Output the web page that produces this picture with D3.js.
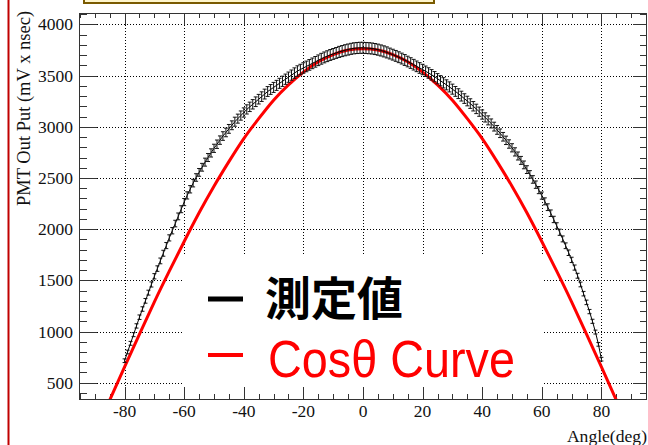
<!DOCTYPE html>
<html>
<head>
<meta charset="utf-8">
<script src="https://cdn.jsdelivr.net/npm/d3@7"></script>
<style>
  html, body { margin: 0; padding: 0; background: #fff; }
  svg { display: block; }
</style>
</head>
<body>
<div id="chart"></div>
<script>
// measured points, 1 degree steps from -80 to 80
const angles = d3.range(-80, 81);
const measured = [
  715, 800, 885, 970, 1055, 1140, 1220, 1300, 1380, 1460,
  1540, 1615, 1690, 1765, 1840, 1915, 1985, 2055, 2125, 2195,
  2265, 2330, 2390, 2450, 2505, 2555, 2605, 2655, 2700, 2745,
  2790, 2830, 2870, 2910, 2945, 2980, 3015, 3050, 3080, 3110,
  3140, 3170, 3195, 3220, 3245, 3270, 3295, 3320, 3345, 3365,
  3385, 3405, 3425, 3445, 3465, 3485, 3505, 3525, 3545, 3560,
  3575, 3590, 3605, 3620, 3635, 3650, 3665, 3678, 3690, 3702,
  3712, 3722, 3732, 3740, 3748, 3755, 3762, 3767, 3770, 3772,
  3772,
  3770, 3768, 3765, 3760, 3754, 3746, 3737, 3727, 3716, 3705,
  3693, 3680, 3667, 3653, 3638, 3623, 3607, 3591, 3575, 3560,
  3543, 3526, 3508, 3490, 3470, 3450, 3430, 3410, 3390, 3368,
  3346, 3324, 3300, 3276, 3252, 3227, 3201, 3175, 3148, 3120,
  3092, 3063, 3033, 3002, 2970, 2937, 2903, 2868, 2832, 2795,
  2755, 2715, 2672, 2628, 2582, 2535, 2486, 2435, 2382, 2328,
  2272, 2215, 2156, 2095, 2033, 1970, 1905, 1838, 1770, 1700,
  1625, 1545, 1460, 1370, 1285, 1195, 1100, 995, 875, 730
];
// half height of the error bars
const errors = [
  18, 18, 19, 20, 21, 22, 22, 23, 24, 25,
  26, 27, 28, 29, 30, 30, 31, 32, 33, 34,
  35, 35, 36, 37, 37, 38, 38, 39, 39, 40,
  40, 41, 41, 42, 42, 43, 43, 44, 44, 45,
  45, 45, 46, 46, 47, 47, 47, 48, 48, 48,
  49, 49, 49, 50, 50, 50, 50, 51, 51, 51,
  51, 52, 52, 52, 52, 52, 53, 53, 53, 53,
  53, 53, 54, 54, 54, 54, 54, 54, 54, 54,
  54,
  54, 54, 54, 54, 54, 54, 54, 54, 53, 53,
  53, 53, 53, 53, 52, 52, 52, 52, 52, 51,
  51, 51, 51, 50, 50, 50, 50, 49, 49, 49,
  48, 48, 48, 47, 47, 47, 46, 46, 45, 45,
  45, 44, 44, 43, 43, 42, 42, 41, 41, 40,
  40, 39, 39, 38, 38, 37, 37, 36, 35, 35,
  34, 33, 32, 31, 30, 30, 29, 28, 27, 26,
  25, 24, 23, 22, 22, 21, 20, 19, 18, 18
];
// cos curve read every 5 degrees
const curveAngles = d3.range(-85, 86, 5);
const curveValues = [
  330, 655, 975, 1290, 1590, 1880, 2160, 2420, 2660, 2885,
  3080, 3260, 3410, 3535, 3635, 3705, 3750, 3763, 3750, 3705,
  3635, 3535, 3410, 3260, 3080, 2885, 2660, 2420, 2160, 1880,
  1590, 1290, 975, 655, 330
];
const xTicks = [-80, -60, -40, -20, 0, 20, 40, 60, 80];
const yTicks = [500, 1000, 1500, 2000, 2500, 3000, 3500, 4000];
const legendLabels = ['測定値', 'Cosθ Curve'];

const W = 648, H = 445;
const plot = { left: 79, right: 647, top: 13, bottom: 399 };

const svg = d3.select('#chart').append('svg')
  .attr('width', W).attr('height', H);
svg.append('rect').attr('width', W).attr('height', H).attr('fill', '#fff');

const x = d3.scaleLinear().domain([-95.3, 95.3]).range([plot.left, plot.right]);
const y = d3.scaleLinear().domain([341, 4112]).range([plot.bottom, plot.top]);

// slide decorations
svg.append('line')
  .attr('x1', 8.5).attr('x2', 8.5).attr('y1', 0).attr('y2', H)
  .attr('stroke', '#c00000').attr('stroke-width', 2);
svg.append('rect')
  .attr('x', 84).attr('y', -10).attr('width', 350).attr('height', 13)
  .attr('fill', '#fff6cc').attr('stroke', '#7a5a00').attr('stroke-width', 2);

svg.append('clipPath').attr('id', 'plotclip')
  .append('rect')
  .attr('x', plot.left).attr('y', plot.top)
  .attr('width', plot.right - plot.left).attr('height', plot.bottom - plot.top);

// grid
const grid = svg.append('g').attr('stroke', '#000').attr('stroke-width', 1)
  .attr('stroke-dasharray', '1,2');
grid.selectAll('.vg').data(xTicks).join('line')
  .attr('x1', d => Math.round(x(d)) + 0.5).attr('x2', d => Math.round(x(d)) + 0.5)
  .attr('y1', plot.top).attr('y2', plot.bottom);
grid.selectAll('.hg').data(yTicks).join('line')
  .attr('y1', d => Math.round(y(d)) + 0.5).attr('y2', d => Math.round(y(d)) + 0.5)
  .attr('x1', plot.left).attr('x2', plot.right);

// legend box hides the grid
svg.append('rect')
  .attr('x', 183).attr('y', 254).attr('width', 360).attr('height', 143)
  .attr('fill', '#fff');

// axes, ROOT style ticks pointing inside
const axisG = svg.append('g').attr('stroke', '#333').attr('stroke-width', 1);
axisG.append('rect')
  .attr('x', plot.left + 0.5).attr('y', plot.top + 0.5)
  .attr('width', plot.right - plot.left - 1).attr('height', plot.bottom - plot.top)
  .attr('fill', 'none');

const xMinor = d3.range(-95, 96, 5);
const yMinor = d3.range(400, 4101, 100);

axisG.selectAll('.xb').data(xMinor).join('line')
  .attr('x1', d => Math.round(x(d)) + 0.5).attr('x2', d => Math.round(x(d)) + 0.5)
  .attr('y1', plot.bottom).attr('y2', d => plot.bottom - (d % 20 === 0 ? 12 : 5));
axisG.selectAll('.xt').data(xMinor).join('line')
  .attr('x1', d => Math.round(x(d)) + 0.5).attr('x2', d => Math.round(x(d)) + 0.5)
  .attr('y1', plot.top).attr('y2', d => plot.top + (d % 20 === 0 ? 12 : 5));
axisG.selectAll('.yl').data(yMinor).join('line')
  .attr('y1', d => Math.round(y(d)) + 0.5).attr('y2', d => Math.round(y(d)) + 0.5)
  .attr('x1', plot.left).attr('x2', d => plot.left + (d % 500 === 0 ? 18 : 8));
axisG.selectAll('.yr').data(yMinor).join('line')
  .attr('y1', d => Math.round(y(d)) + 0.5).attr('y2', d => Math.round(y(d)) + 0.5)
  .attr('x1', plot.right).attr('x2', d => plot.right - (d % 500 === 0 ? 14 : 7));

// tick labels
const serif = '"Liberation Serif", "Times New Roman", serif';
svg.append('g').selectAll('text').data(xTicks).join('text')
  .attr('x', d => x(d)).attr('y', 417)
  .attr('text-anchor', 'middle')
  .attr('font-family', serif).attr('font-size', 17.5).attr('fill', '#111')
  .text(d => d);
svg.append('g').selectAll('text').data(yTicks).join('text')
  .attr('x', 73).attr('y', d => y(d) + 6)
  .attr('text-anchor', 'end')
  .attr('font-family', serif).attr('font-size', 17.5).attr('fill', '#111')
  .text(d => d);

svg.append('text')
  .attr('transform', 'translate(30,108.5) rotate(-90)')
  .attr('text-anchor', 'middle')
  .attr('font-family', serif).attr('font-size', 18.5).attr('fill', '#111')
  .text('PMT Out Put (mV x nsec)');
svg.append('text')
  .attr('x', 647).attr('y', 442)
  .attr('text-anchor', 'end')
  .attr('font-family', serif).attr('font-size', 17.6).attr('fill', '#111')
  .text('Angle(deg)');

// data
const plotG = svg.append('g').attr('clip-path', 'url(#plotclip)');

const cosLine = d3.line()
  .x((d, i) => x(curveAngles[i]))
  .y(d => y(d))
  .curve(d3.curveNatural);
plotG.append('path')
  .datum(curveValues)
  .attr('d', cosLine)
  .attr('fill', 'none').attr('stroke', '#ff0000').attr('stroke-width', 3);

const measLine = d3.line()
  .x((d, i) => x(angles[i]))
  .y(d => y(d));
plotG.append('path')
  .datum(measured)
  .attr('d', measLine)
  .attr('fill', 'none').attr('stroke', '#000').attr('stroke-width', 1);

const bars = plotG.append('g').attr('stroke', '#111').attr('stroke-width', 1);
measured.forEach((v, i) => {
  const cx = x(angles[i]);
  const y0 = y(v - errors[i]), y1 = y(v + errors[i]);
  bars.append('line').attr('x1', cx).attr('x2', cx).attr('y1', y0).attr('y2', y1);
  bars.append('line').attr('x1', cx - 2).attr('x2', cx + 2).attr('y1', y0).attr('y2', y0);
  bars.append('line').attr('x1', cx - 2).attr('x2', cx + 2).attr('y1', y1).attr('y2', y1);
});

// legend
const legend = svg.append('g');
legend.append('line')
  .attr('x1', 208).attr('x2', 243).attr('y1', 299).attr('y2', 299)
  .attr('stroke', '#000').attr('stroke-width', 5);
legend.append('line')
  .attr('x1', 208).attr('x2', 243).attr('y1', 355).attr('y2', 355)
  .attr('stroke', '#ff0000').attr('stroke-width', 4);
legend.append('text')
  .attr('x', 265).attr('y', 315)
  .attr('font-family', '"Noto Sans CJK JP", sans-serif').attr('font-weight', 'bold')
  .attr('font-size', 46).attr('fill', '#000')
  .text(legendLabels[0]);
legend.append('text')
  .attr('x', 268).attr('y', 377)
  .attr('font-family', '"Liberation Sans", Arial, sans-serif')
  .attr('font-size', 52).attr('fill', '#ff0000')
  .attr('textLength', 247).attr('lengthAdjust', 'spacingAndGlyphs')
  .text(legendLabels[1]);
</script>
</body>
</html>
